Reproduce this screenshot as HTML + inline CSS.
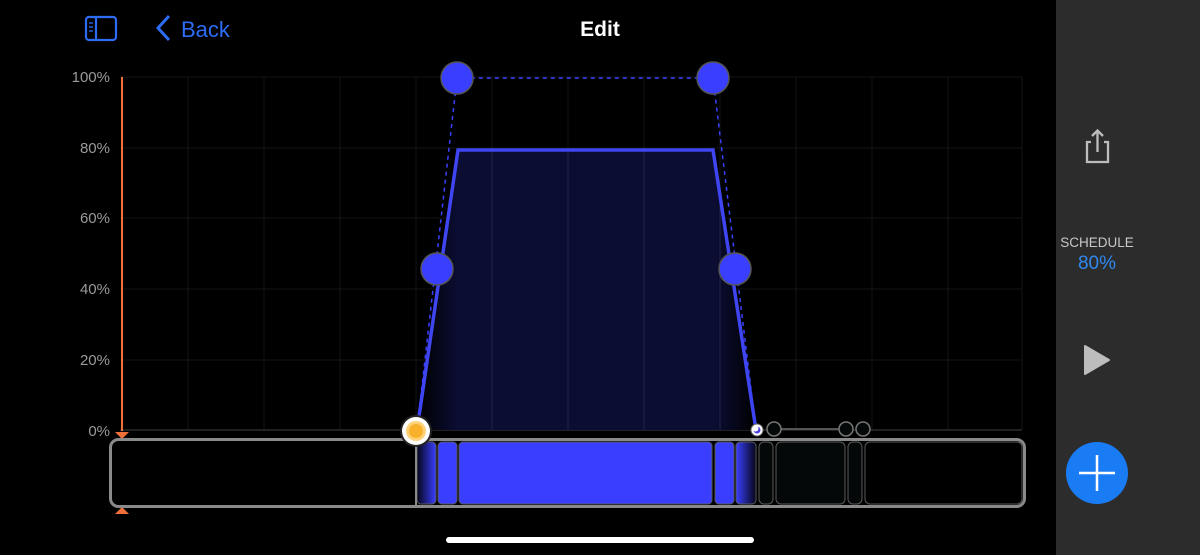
<!DOCTYPE html>
<html><head><meta charset="utf-8"><style>
html,body{margin:0;padding:0;background:#000;width:1200px;height:555px;overflow:hidden;font-family:"Liberation Sans",sans-serif}
</style></head><body>
<svg width="1200" height="555" viewBox="0 0 1200 555" xmlns="http://www.w3.org/2000/svg" style="position:absolute;left:0;top:0">
<defs>
<linearGradient id="segL" x1="0" x2="1"><stop offset="0" stop-color="#050518"/><stop offset="1" stop-color="#3a3fff"/></linearGradient>
<linearGradient id="segR" x1="0" x2="1"><stop offset="0" stop-color="#3a3fff"/><stop offset="1" stop-color="#050518"/></linearGradient>
<linearGradient id="fillG" x1="417" x2="756" y1="0" y2="0" gradientUnits="userSpaceOnUse"><stop offset="0" stop-color="#000"/><stop offset="0.12" stop-color="#0b0d33"/><stop offset="0.88" stop-color="#0b0d33"/><stop offset="1" stop-color="#000"/></linearGradient>
</defs>
<rect x="1056" y="0" width="144" height="555" fill="#2c2c2c"/>
<g stroke="#2f6cf5" stroke-width="2.2" fill="none">
<rect x="86" y="17" width="30" height="23" rx="3"/>
<line x1="96" y1="17" x2="96" y2="40"/>
<line x1="89" y1="23" x2="93" y2="23" stroke-width="1.3"/><line x1="89" y1="27" x2="93" y2="27" stroke-width="1.3"/><line x1="89" y1="31" x2="93" y2="31" stroke-width="1.3"/>
<polyline points="169,16 158,28 169,40" stroke-width="3"/>
</g>
<text x="181" y="37" fill="#2f6cf5" font-size="22">Back</text>
<text x="600" y="36" fill="#fff" font-size="21" font-weight="bold" text-anchor="middle">Edit</text>
<g stroke="#151515" stroke-width="1">
<line x1="120" y1="77" x2="1022" y2="77"/><line x1="120" y1="148" x2="1022" y2="148"/><line x1="120" y1="218" x2="1022" y2="218"/><line x1="120" y1="289" x2="1022" y2="289"/><line x1="120" y1="360" x2="1022" y2="360"/>
<line x1="188" y1="77" x2="188" y2="430"/><line x1="264" y1="77" x2="264" y2="430"/><line x1="340" y1="77" x2="340" y2="430"/><line x1="416" y1="77" x2="416" y2="430"/><line x1="492" y1="77" x2="492" y2="430"/><line x1="568" y1="77" x2="568" y2="430"/><line x1="644" y1="77" x2="644" y2="430"/><line x1="720" y1="77" x2="720" y2="430"/><line x1="796" y1="77" x2="796" y2="430"/><line x1="872" y1="77" x2="872" y2="430"/><line x1="948" y1="77" x2="948" y2="430"/><line x1="1022" y1="77" x2="1022" y2="430"/>
</g>
<line x1="120" y1="430" x2="1022" y2="430" stroke="#2a2a2a" stroke-width="1.5"/>
<g fill="#9a9a9a" font-size="15" text-anchor="end">
<text x="110" y="82">100%</text><text x="110" y="153">80%</text><text x="110" y="223">60%</text><text x="110" y="294">40%</text><text x="110" y="365">20%</text><text x="110" y="436">0%</text>
</g>
<polygon points="417,430 458,150 713,150 756,430" fill="url(#fillG)"/>
<g stroke="#22244a" stroke-width="1"><line x1="492" y1="150" x2="492" y2="430"/><line x1="568" y1="150" x2="568" y2="430"/><line x1="644" y1="150" x2="644" y2="430"/><line x1="720" y1="190" x2="720" y2="430"/></g>
<polyline points="417,430 458,150 713,150 756,430" fill="none" stroke="#3f45f0" stroke-width="3.5"/>
<polyline points="417,430 457,78 713,78 756,430" fill="none" stroke="#3a40ff" stroke-width="1.5" stroke-dasharray="4,4"/>
<g fill="#3a3fff" stroke="#555" stroke-width="1.5">
<circle cx="457" cy="78" r="16"/><circle cx="713" cy="78" r="16"/><circle cx="437" cy="269" r="16"/><circle cx="735" cy="269" r="16"/>
</g>
<line x1="122" y1="77" x2="122" y2="431" stroke="#f0703a" stroke-width="2"/>
<polygon points="115,432 129,432 122,439" fill="#f0703a"/>
<polygon points="115,514 129,514 122,507" fill="#f0703a"/>
<line x1="781" y1="429" x2="839" y2="429" stroke="#555" stroke-width="2"/>
<g fill="#050808" stroke="#777" stroke-width="1.5"><circle cx="774" cy="429" r="7"/><circle cx="846" cy="429" r="7"/><circle cx="863" cy="429" r="7"/></g>
<circle cx="757" cy="430" r="6" fill="#fff" stroke="#666"/>
<circle cx="757" cy="430" r="3.5" fill="#4a3fe0"/><circle cx="755.5" cy="428.5" r="3" fill="#fff"/>
<rect x="110.5" y="439.5" width="914" height="67" rx="8" fill="#000" stroke="#8a8a8a" stroke-width="3"/>
<g stroke="#5a5a5a" stroke-width="1">
<rect x="417" y="442" width="19" height="62" rx="4" fill="url(#segL)"/>
<rect x="438" y="442" width="19" height="62" rx="4" fill="#3a3fff"/>
<rect x="459" y="442" width="253" height="62" rx="4" fill="#3a3fff"/>
<rect x="715" y="442" width="19" height="62" rx="4" fill="#3a3fff"/>
<rect x="736" y="442" width="20" height="62" rx="4" fill="url(#segR)"/>
<rect x="759" y="442" width="14" height="62" rx="5" fill="#050808"/>
<rect x="776" y="442" width="69" height="62" rx="5" fill="#050808"/>
<rect x="848" y="442" width="14" height="62" rx="5" fill="#050808"/>
<rect x="865" y="442" width="157" height="62" rx="5" fill="#000"/>
</g>
<line x1="416" y1="440" x2="416" y2="506" stroke="#8a8a8a" stroke-width="2"/>
<circle cx="416" cy="431" r="16" fill="#222"/>
<circle cx="416" cy="431" r="14" fill="#fff"/>
<circle cx="416" cy="431" r="10" fill="#ffd27a"/>
<circle cx="416" cy="431" r="7" fill="#f8b12a"/>
<g stroke="#bdbdbd" stroke-width="2.3" fill="none">
<path d="M1091,142 h-4 v20 h21 v-20 h-4"/>
<line x1="1097.5" y1="131" x2="1097.5" y2="152"/>
<polyline points="1092,136 1097.5,130.5 1103,136"/>
</g>
<text x="1097" y="247" fill="#c8c8c8" font-size="13.5" text-anchor="middle">SCHEDULE</text>
<text x="1097" y="269" fill="#2e88f0" font-size="19" text-anchor="middle">80%</text>
<path d="M1085,346 L1109,360 L1085,374 Z" fill="#bdbdbd" stroke="#bdbdbd" stroke-width="2" stroke-linejoin="round"/>
<circle cx="1097" cy="473" r="31" fill="#1a7cf5"/>
<line x1="1079" y1="473" x2="1115" y2="473" stroke="#fff" stroke-width="2.5"/>
<line x1="1097" y1="455" x2="1097" y2="491" stroke="#fff" stroke-width="2.5"/>
<rect x="446" y="537" width="308" height="6" rx="3" fill="#fff"/>
</svg>
</body></html>
